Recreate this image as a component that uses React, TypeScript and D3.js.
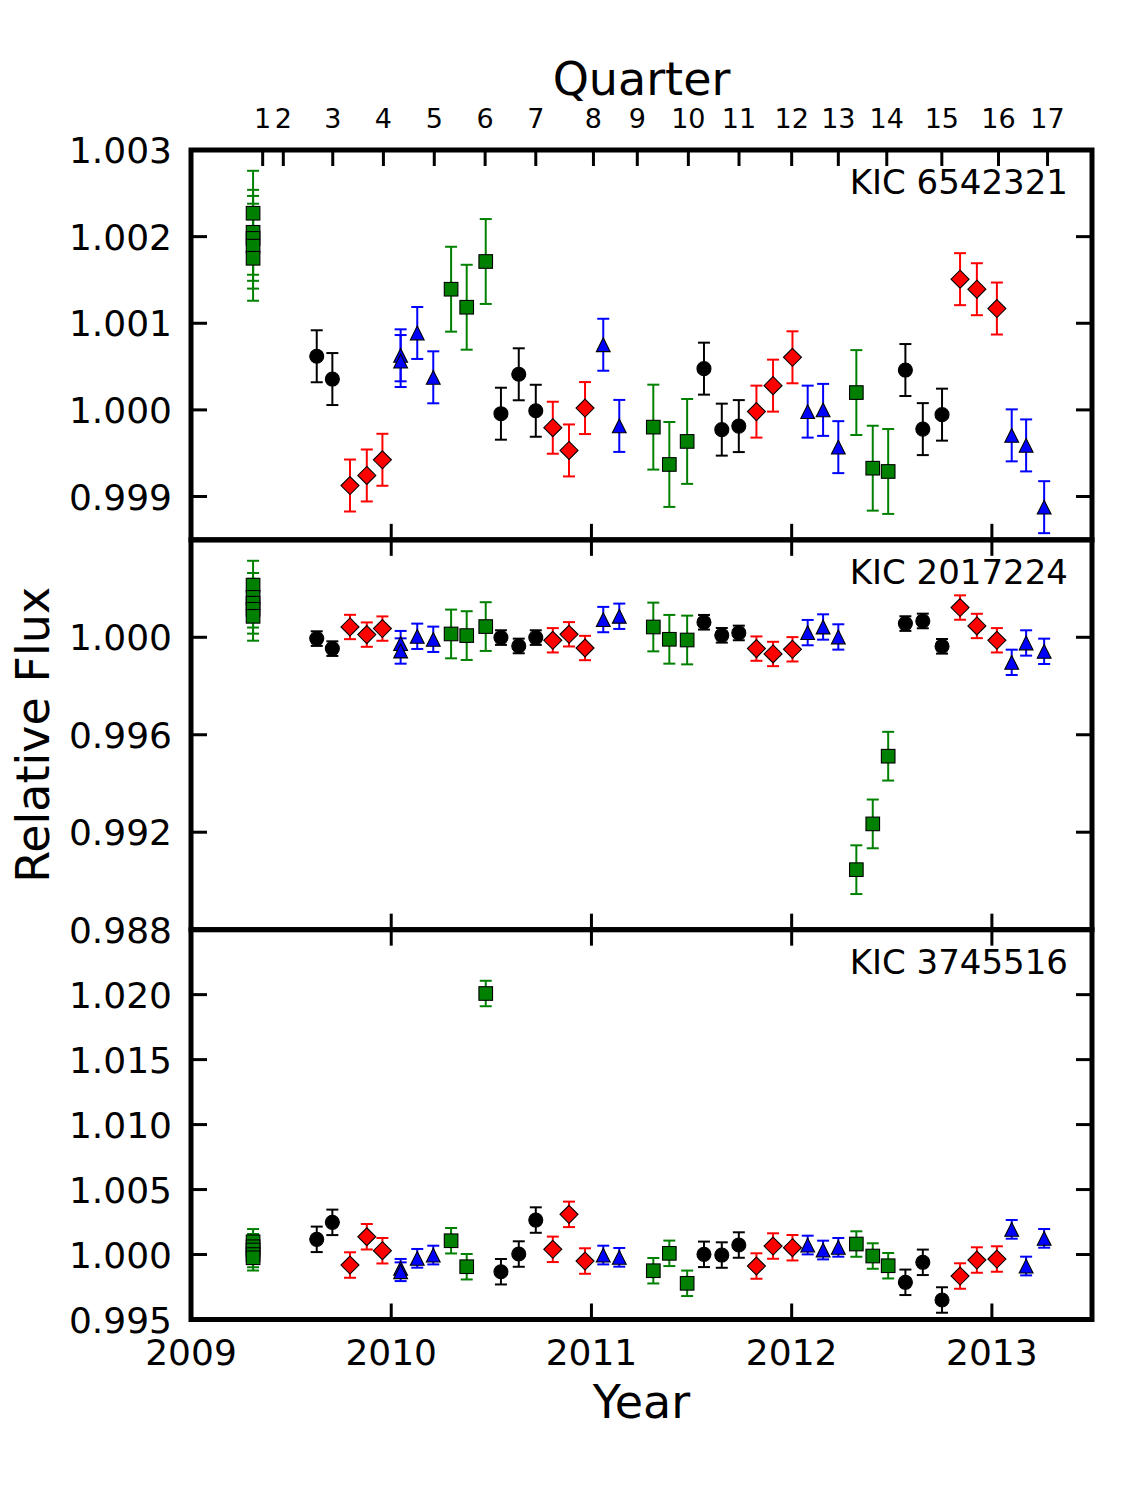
import React from 'react';
import * as d3 from 'd3';

// ---------- data ----------
const yearTicks = [2009, 2010, 2011, 2012, 2013];
const quarterTicks = [2009.358, 2009.461, 2009.708, 2009.961, 2010.215, 2010.469, 2010.722, 2011.010, 2011.229, 2011.484, 2011.737, 2012.000, 2012.233, 2012.475, 2012.750, 2013.033, 2013.278];
const quarterLabels = ['1', '2', '3', '4', '5', '6', '7', '8', '9', '10', '11', '12', '13', '14', '15', '16', '17'];

const tBlack = [2009.628, 2009.706, 2010.548, 2010.637, 2010.722, 2011.562, 2011.651, 2011.736, 2012.568, 2012.655, 2012.751];
const tRed = [2009.794, 2009.878, 2009.956, 2010.807, 2010.888, 2010.968, 2011.824, 2011.907, 2012.004, 2012.841, 2012.925, 2013.025];
const tBlue = [2010.047, 2010.047, 2010.130, 2010.210, 2011.059, 2011.139, 2012.080, 2012.157, 2012.233, 2013.099, 2013.171, 2013.261];
const tGreen = [2009.310, 2009.310, 2009.310, 2009.310, 2009.310, 2010.299, 2010.377, 2010.472, 2011.309, 2011.389, 2011.478, 2012.323, 2012.405, 2012.482];

// KIC 6542321
const aBlack = [1.000619, 1.000356, 0.999956, 1.000411, 0.99999, 1.000476, 0.999772, 0.999813, 1.00046, 0.999778, 0.999945];
const aRed = [0.999127, 0.999243, 0.999424, 0.999794, 0.999532, 1.000021, 0.99998, 1.00028, 1.000607, 1.001509, 1.001393, 1.00117];
const aBlue = [1.00063, 1.000564, 1.000888, 1.000376, 1.000752, 0.999815, 0.99998, 1.0, 0.99957, 0.999706, 0.99959, 0.998877];
const aGreen = [1.00227, 1.00205, 1.00198, 1.00189, 1.00175, 1.001393, 1.001185, 1.001713, 0.999801, 0.99937, 0.999636, 1.0002, 0.999327, 0.999289];
const aErr = { black: 0.0003, red: 0.0003, blue: 0.0003, green: 0.00049 };

// KIC 2017224
const bBlack = [0.999946, 0.999535, 0.999988, 0.999644, 0.999988, 1.000617, 1.000082, 1.000178, 1.000563, 1.00067, 0.99963];
const bRed = [1.000423, 1.00011, 1.000357, 0.999877, 1.000123, 0.99956, 0.999535, 0.999315, 0.999507, 1.001221, 1.000465, 0.999877];
const bBlue = [0.999741, 0.999437, 1.000041, 0.999918, 1.000728, 1.000863, 1.000192, 1.000423, 1.000014, 0.998972, 0.999767, 0.999424];
const bGreen = [1.00214, 1.00164, 1.0014, 1.00115, 1.00086, 1.000137, 1.00007, 1.00044, 1.000423, 0.999918, 0.999889, 0.990462, 0.992341, 0.99512];
const bErr = { black: 0.0003, red: 0.0005, blue: 0.00052, green: 0.001 };

// KIC 3745516
const cBlack = [1.001169, 1.002476, 0.998677, 1.000038, 1.002653, 1.000015, 0.99996, 1.000731, 0.997862, 0.9994, 0.996501];
const cRed = [0.999192, 1.001369, 1.000292, 1.0004, 1.003091, 0.9995, 0.999115, 1.000654, 1.000523, 0.998346, 0.999577, 0.999654];
const cBlue = [0.998939, 0.998677, 0.999708, 0.99996, 0.99996, 0.999785, 1.000731, 1.000346, 1.000554, 1.001938, 0.999115, 1.001246];
const cGreen = [1.00098, 1.0006, 1.00035, 1.0, 0.99975, 1.001062, 0.999062, 1.020087, 0.998754, 1.000092, 0.997785, 1.000808, 0.999885, 0.999138];
const cErr = { black: 0.00098, red: 0.00098, blue: 0.00072, green: 0.00098 };

const panelNames = ['KIC 6542321', 'KIC 2017224', 'KIC 3745516'];
const panelDomains = [[0.9985, 1.003], [0.988, 1.004], [0.995, 1.025]];
const panelTicks = [
  [1.003, 1.002, 1.001, 1.0, 0.999],
  [1.0, 0.996, 0.992, 0.988],
  [1.02, 1.015, 1.01, 1.005, 1.0, 0.995],
];

// ---------- layout ----------
const FONT = 'DejaVu Sans, Verdana, sans-serif';
const W = 1125, H = 1500;
const left = 191, right = 1092;
const top0 = 150, bottom0 = 1319.5;
const ph = (bottom0 - top0) / 3;

const colors = { black: '#000000', red: '#ff0000', blue: '#0000ff', green: '#008000' };
const shapes = { black: 'circle', red: 'diamond', blue: 'triangle', green: 'square' };

const panels = [
  { name: panelNames[0], domain: panelDomains[0], ticks: panelTicks[0], err: aErr,
    series: { black: aBlack, red: aRed, blue: aBlue, green: aGreen } },
  { name: panelNames[1], domain: panelDomains[1], ticks: panelTicks[1], err: bErr,
    series: { black: bBlack, red: bRed, blue: bBlue, green: bGreen } },
  { name: panelNames[2], domain: panelDomains[2], ticks: panelTicks[2], err: cErr,
    series: { black: cBlack, red: cRed, blue: cBlue, green: cGreen } },
];
const times = { black: tBlack, red: tRed, blue: tBlue, green: tGreen };
const order = ['black', 'red', 'blue', 'green'];

function Marker({ shape, x, y, fill }) {
  const sw = 1.1;
  if (shape === 'circle') return <circle cx={x} cy={y} r={7} fill={fill} stroke="#000" strokeWidth={sw} />;
  if (shape === 'square') return <rect x={x - 6.8} y={y - 6.8} width={13.6} height={13.6} fill={fill} stroke="#000" strokeWidth={sw} />;
  if (shape === 'diamond') {
    const r = 9;
    return <path d={`M${x},${y - r}L${x + r},${y}L${x},${y + r}L${x - r},${y}Z`} fill={fill} stroke="#000" strokeWidth={sw} />;
  }
  const r = 6.9;
  return <path d={`M${x},${y - r}L${x + r},${y + r}L${x - r},${y + r}Z`} fill={fill} stroke="#000" strokeWidth={sw} />;
}

export default function App() {
  const x = d3.scaleLinear().domain([2009, 2013.5]).range([left, right]);
  const fmt = d3.format('.3f');
  const tickLen = 16;

  return (
    <svg width={W} height={H} viewBox={`0 0 ${W} ${H}`}
      style={{ position: 'absolute', left: 0, top: 0, background: '#fff' }}
      fontFamily={FONT}>
      <rect x={0} y={0} width={W} height={H} fill="#fff" />
      {panels.map((p, i) => {
        const pt = top0 + i * ph;
        const pb = pt + ph;
        const y = d3.scaleLinear().domain(p.domain).range([pb, pt]);
        return (
          <g key={p.name}>
            {order.map((k) => (
              <g key={k + 'e'} stroke={colors[k]} strokeWidth={2}>
                {p.series[k].map((v, j) => {
                  const cx = x(times[k][j]);
                  const y1 = y(v + p.err[k]);
                  const y2 = y(v - p.err[k]);
                  return (
                    <g key={j}>
                      <line x1={cx} x2={cx} y1={y1} y2={y2} />
                      <line x1={cx - 6} x2={cx + 6} y1={y1} y2={y1} />
                      <line x1={cx - 6} x2={cx + 6} y1={y2} y2={y2} />
                    </g>
                  );
                })}
              </g>
            ))}
            {order.map((k) => (
              <g key={k + 'm'}>
                {p.series[k].map((v, j) => (
                  <Marker key={j} shape={shapes[k]} x={x(times[k][j])} y={y(v)} fill={colors[k]} />
                ))}
              </g>
            ))}
            {p.ticks.map((t) => (
              <g key={'yt' + t}>
                <line x1={left} x2={left + tickLen} y1={y(t)} y2={y(t)} stroke="#000" strokeWidth={3} />
                <line x1={right - tickLen} x2={right} y1={y(t)} y2={y(t)} stroke="#000" strokeWidth={3} />
                <text x={172} y={y(t) + 13} fontSize={36} textAnchor="end" fill="#000">{fmt(t)}</text>
              </g>
            ))}
            {yearTicks.map((t) => (
              <g key={'xt' + t}>
                <line x1={x(t)} x2={x(t)} y1={pb} y2={pb - tickLen} stroke="#000" strokeWidth={3} />
                {i > 0 && <line x1={x(t)} x2={x(t)} y1={pt} y2={pt + tickLen} stroke="#000" strokeWidth={3} />}
              </g>
            ))}
            <text x={1068} y={pt + 44} fontSize={34} textAnchor="end" fill="#000">{p.name}</text>
            <rect x={left} y={pt} width={right - left} height={ph} fill="none" stroke="#000" strokeWidth={5} />
          </g>
        );
      })}
      {quarterTicks.map((q, i) => (
        <g key={'q' + i}>
          <line x1={x(q)} x2={x(q)} y1={top0} y2={top0 + tickLen} stroke="#000" strokeWidth={3} />
          <text x={x(q)} y={128} fontSize={27} textAnchor="middle" fill="#000">{quarterLabels[i]}</text>
        </g>
      ))}
      {yearTicks.map((t) => (
        <text key={'yl' + t} x={x(t)} y={1365} fontSize={36} textAnchor="middle" fill="#000">{t}</text>
      ))}
      <text x={(left + right) / 2} y={95} fontSize={46} textAnchor="middle" fill="#000">Quarter</text>
      <text x={(left + right) / 2} y={1418} fontSize={46} textAnchor="middle" fill="#000">Year</text>
      <text transform={`translate(49,${(top0 + bottom0) / 2}) rotate(-90)`} fontSize={46} textAnchor="middle" fill="#000">Relative Flux</text>
    </svg>
  );
}
